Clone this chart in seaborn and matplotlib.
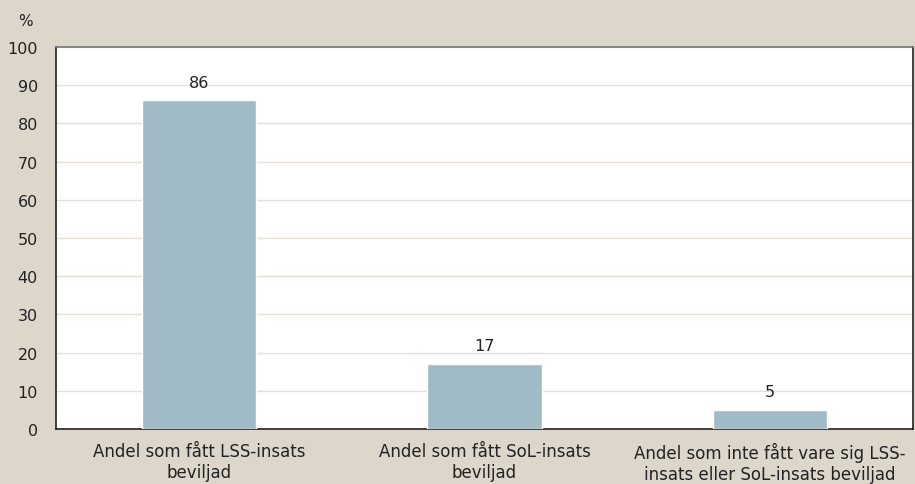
import pandas as pd
import matplotlib.pyplot as plt
import seaborn as sns

kategorier = ["Andel som fått LSS-insats\nbeviljad",
              "Andel som fått SoL-insats\nbeviljad",
              "Andel som inte fått vare sig LSS-\ninsats eller SoL-insats beviljad"]
andel = [86, 17, 5]
yticks = [0, 10, 20, 30, 40, 50, 60, 70, 80, 90, 100]

bg = "#ddd6cb"
sns.set_style("white")
plt.rcParams['font.family'] = ['DejaVu Sans']

df = pd.DataFrame({"kategori": kategorier, "andel": andel})

fig = plt.figure(figsize=(9.15, 4.85), dpi=100, facecolor=bg)
ax = fig.add_axes([0.0612, 0.1134, 0.9366, 0.7876])
ax.set_facecolor("white")

sns.barplot(data=df, x="kategori", y="andel", color="#a0bbc6", width=0.4,
            saturation=1, ax=ax, zorder=3)

for i, v in enumerate(andel):
    ax.text(i, v + 2.8, str(v), ha="center", va="bottom", fontsize=11.5, color="#222222")

ax.set_ylim(0, 100)
ax.set_xlim(-0.5, 2.5)
ax.set_yticks(yticks)
ax.yaxis.grid(True, color="#e6e0d5", lw=1, zorder=0)
ax.tick_params(axis="y", length=0, labelsize=11.5, pad=13, colors="#222222")
ax.tick_params(axis="x", which="major", length=0, labelsize=12, pad=9, colors="#222222")
for lbl in ax.get_xticklabels():
    lbl.set_linespacing(1.25)
ax.set_xticks([0.5, 1.5], minor=True)
ax.tick_params(axis="x", which="minor", direction="in", length=6, color="#555555")
ax.set_xlabel("")
ax.set_ylabel("")

for s in ["left", "bottom", "right"]:
    ax.spines[s].set_color("#222222")
    ax.spines[s].set_linewidth(1.2)
ax.spines["top"].set_color("#777777")
ax.spines["top"].set_linewidth(1.2)

fig.text(25 / 915, 1 - 22 / 485, "%", ha="center", va="center", fontsize=11, color="#222222")

fig.savefig("out.png", dpi=100, facecolor=bg)
